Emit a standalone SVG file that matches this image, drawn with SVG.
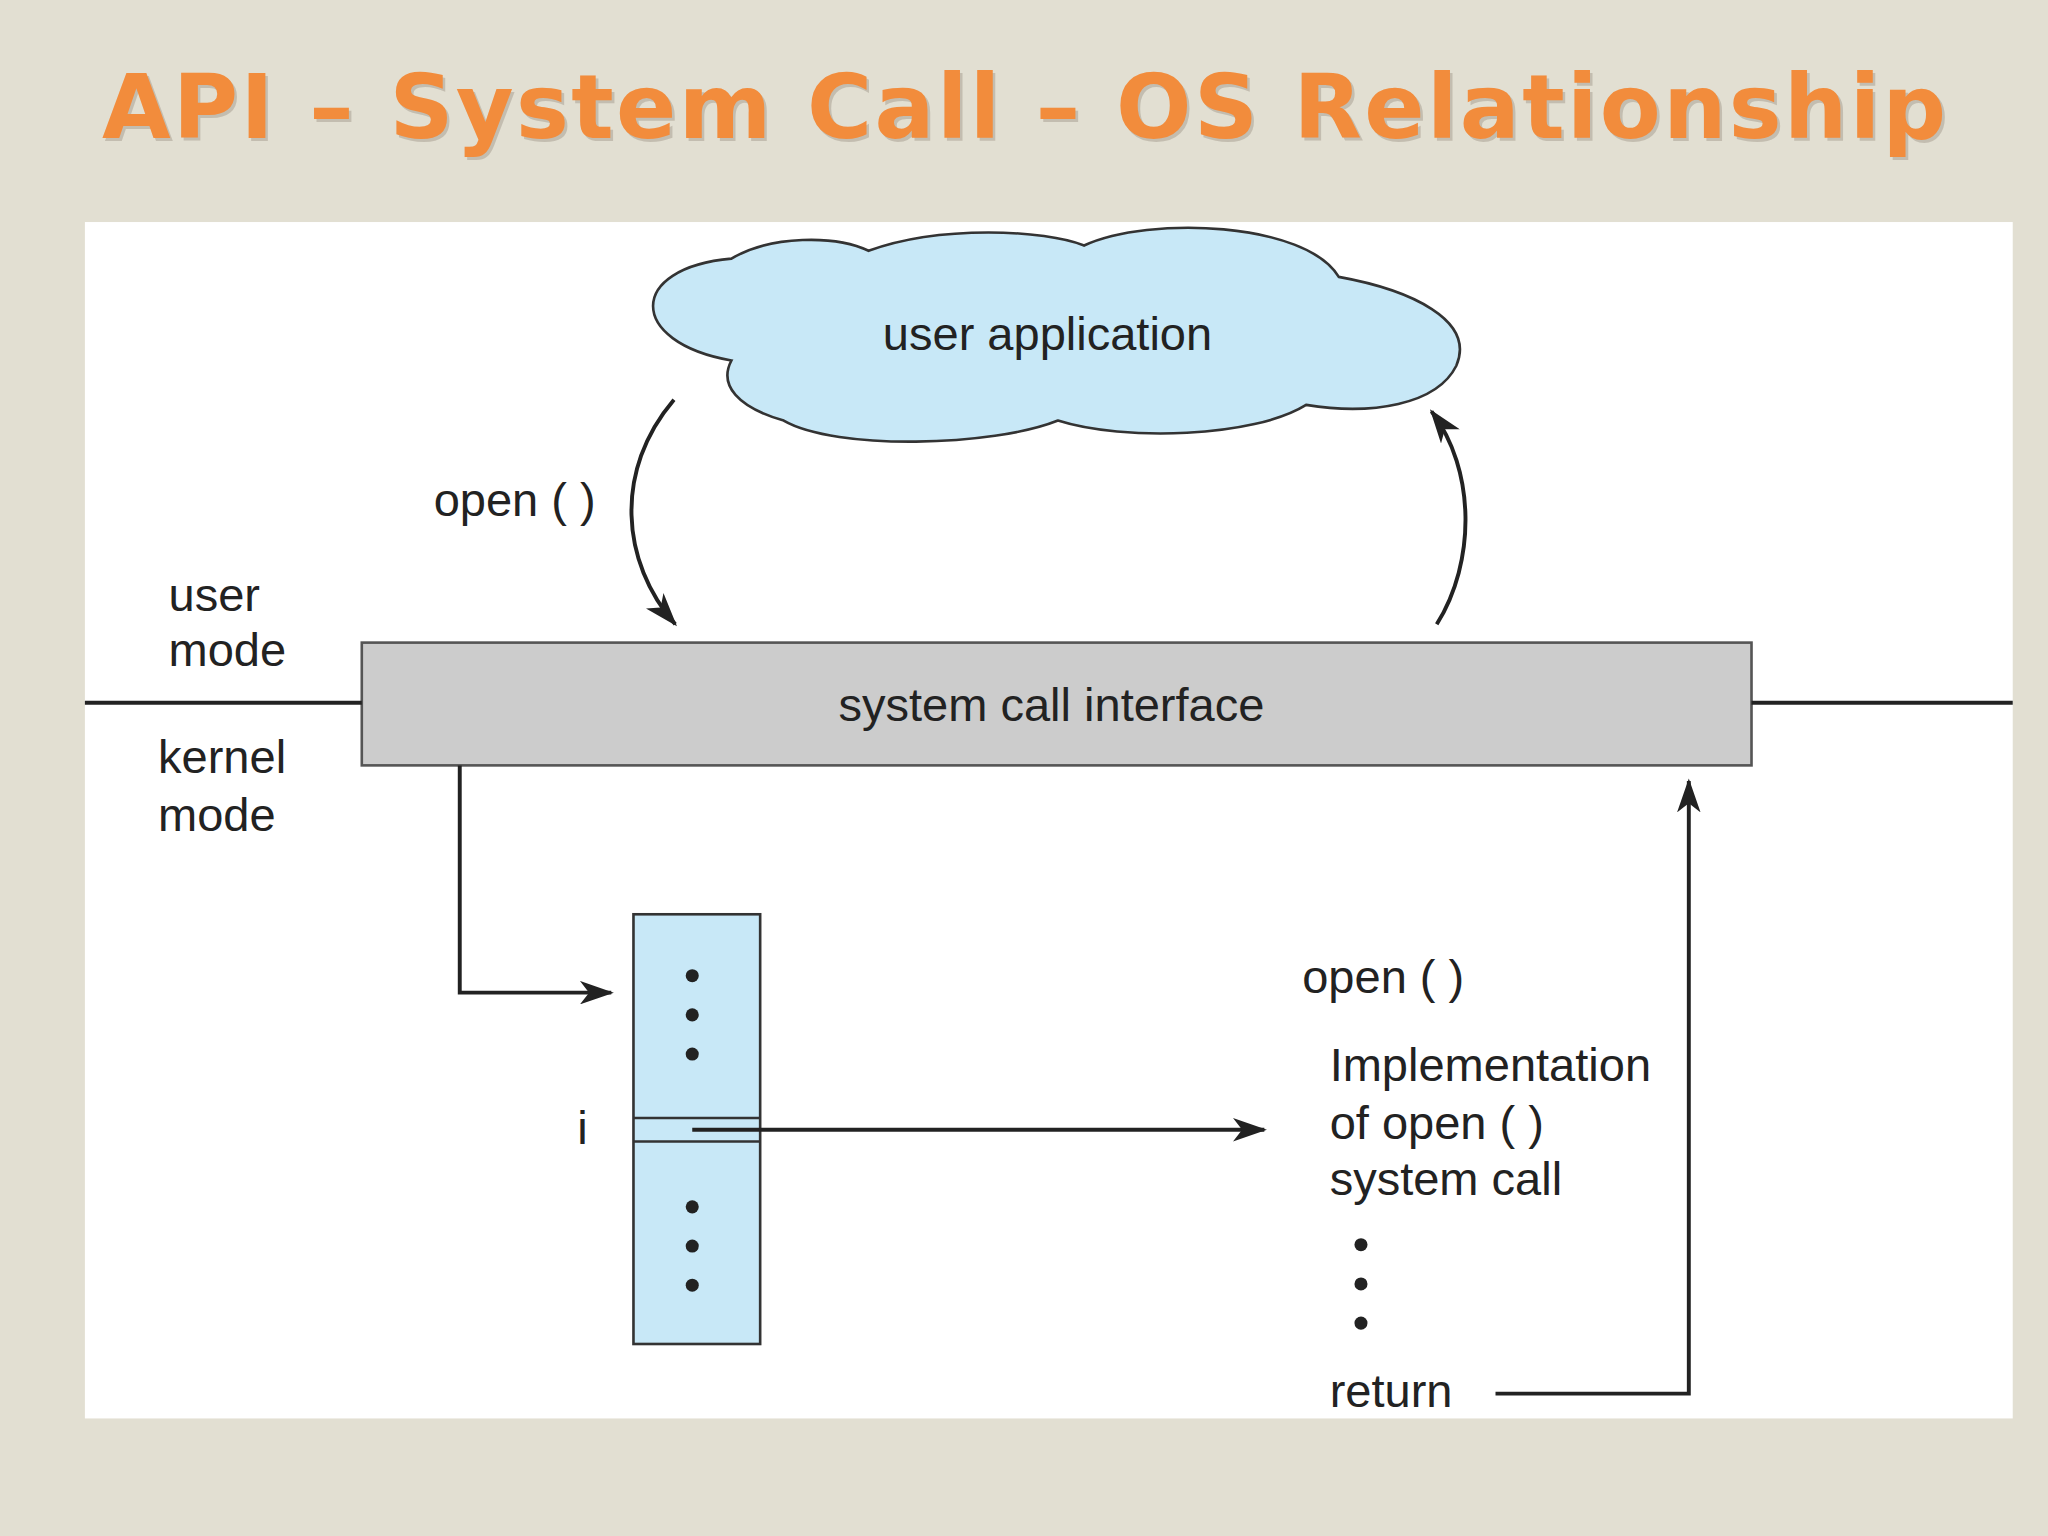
<svg xmlns="http://www.w3.org/2000/svg" width="2048" height="1536" viewBox="0 0 2048 1536">
<style>
.t{font-family:"Liberation Sans",Arial,sans-serif;font-size:36px;fill:#222}
.ln{stroke:#222;stroke-width:3;fill:none}
</style>
<defs>
<marker id="ah" markerWidth="26" markerHeight="18" refX="24" refY="9" orient="auto" markerUnits="userSpaceOnUse">
<path d="M0,0 L26,9 L0,18 L7,9 z" fill="#222"/>
</marker>
</defs>
<rect width="2048" height="1536" fill="#e2dfd2"/>
<g transform="scale(1.30612)">
<text x="786" y="108" text-anchor="middle" font-family="DejaVu Sans,Verdana,sans-serif" font-weight="bold" font-size="68" fill="#b0a89a" opacity="0.6" textLength="1412">API – System Call – OS Relationship</text>
<text x="784" y="106" text-anchor="middle" font-family="DejaVu Sans,Verdana,sans-serif" font-weight="bold" font-size="68" fill="#f28c3c" textLength="1412">API – System Call – OS Relationship</text>
<rect x="65" y="170" width="1476" height="916" fill="#fff"/>
<g id="cloud">
<path d="M560,276 C480,262 480,205 560,198 C590,180 640,180 665,192 C720,172 800,176 830,188 C880,165 1000,170 1025,212 C1080,222 1130,245 1115,280 C1100,310 1050,318 1000,310 C960,335 860,338 810,322 C760,342 640,345 600,322 C565,312 550,295 560,276 Z" fill="#c8e8f7" stroke="#333" stroke-width="2"/>
<text class="t" x="802" y="268" text-anchor="middle">user application</text>
</g>
<g id="sci">
<rect x="277" y="492" width="1064" height="94" fill="#cccccc" stroke="#555" stroke-width="2"/>
<text class="t" x="805" y="552" text-anchor="middle">system call interface</text>
</g>
<g id="table">
<rect x="485" y="700" width="97" height="329" fill="#c8e8f7" stroke="#333" stroke-width="2"/>
<line x1="485" y1="856" x2="582" y2="856" stroke="#333" stroke-width="2"/>
<line x1="485" y1="874" x2="582" y2="874" stroke="#333" stroke-width="2"/>
<g fill="#222"><circle cx="530" cy="747" r="5"/><circle cx="530" cy="777" r="5"/><circle cx="530" cy="807" r="5"/><circle cx="530" cy="924" r="5"/><circle cx="530" cy="954" r="5"/><circle cx="530" cy="984" r="5"/></g>
<text class="t" x="442" y="876">i</text>
</g>
<g id="impl">
<text class="t" x="997" y="760">open ( )</text>
<text class="t" x="1018" y="828">Implementation</text>
<text class="t" x="1018" y="872">of open ( )</text>
<text class="t" x="1018" y="915">system call</text>
<g fill="#222"><circle cx="1042" cy="953" r="5"/><circle cx="1042" cy="983" r="5"/><circle cx="1042" cy="1013" r="5"/></g>
<text class="t" x="1018" y="1077">return</text>
</g>
<g id="labels">
<text class="t" x="332" y="395">open ( )</text>
<text class="t" x="129" y="468">user</text>
<text class="t" x="129" y="510">mode</text>
<text class="t" x="121" y="592">kernel</text>
<text class="t" x="121" y="636">mode</text>
</g>
<g id="connectors">
<line class="ln" x1="65" y1="538" x2="277" y2="538" stroke-width="1.5"/>
<line class="ln" x1="1341" y1="538" x2="1541" y2="538" stroke-width="1.5"/>
<path class="ln" d="M516,306 C470,360 475,430 517,478" marker-end="url(#ah)"/>
<path class="ln" d="M1100,478 C1130,430 1130,360 1096,315" marker-end="url(#ah)"/>
<path class="ln" d="M352,586 L352,760 L468,760" marker-end="url(#ah)"/>
<path class="ln" d="M530,865 L968,865" marker-end="url(#ah)"/>
<path class="ln" d="M1145,1067 L1293,1067 L1293,598" marker-end="url(#ah)"/>
</g>
</g>
</svg>
